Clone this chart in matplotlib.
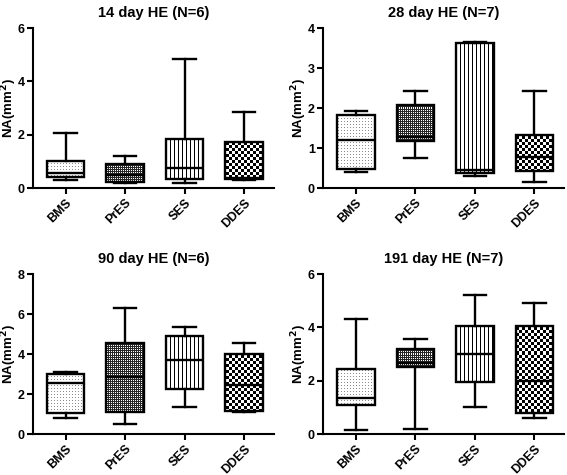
import numpy as np
import matplotlib
matplotlib.use("Agg")
from matplotlib import pyplot as plt

plt.rcParams['font.family'] = ['Liberation Sans', 'DejaVu Sans']
plt.rcParams['font.weight'] = 'bold'

groups = ['BMS', 'PrES', 'SES', 'DDES']
titles = ['14 day HE (N=6)', '28 day HE (N=7)', '90 day HE (N=6)', '191 day HE (N=7)']
ymax = [6, 4, 8, 6]
ystep = [2, 1, 2, 2]

# per panel, per group: min, q1, median, q3, max
d14_min = [0.30, 0.20, 0.20, 0.30]
d14_q1 = [0.40, 0.22, 0.33, 0.33]
d14_med = [0.55, 0.50, 0.75, 0.36]
d14_q3 = [1.00, 0.90, 1.85, 1.72]
d14_max = [2.05, 1.20, 4.85, 2.85]

d28_min = [0.40, 0.75, 0.30, 0.15]
d28_q1 = [0.48, 1.18, 0.37, 0.42]
d28_med = [1.20, 1.27, 0.45, 0.78]
d28_q3 = [1.82, 2.08, 3.63, 1.32]
d28_max = [1.92, 2.43, 3.65, 2.42]

d90_min = [0.80, 0.50, 1.35, 1.10]
d90_q1 = [1.05, 1.10, 2.25, 1.15]
d90_med = [2.55, 2.85, 3.70, 2.45]
d90_q3 = [3.00, 4.55, 4.90, 4.00]
d90_max = [3.10, 6.30, 5.35, 4.55]

d191_min = [0.15, 0.20, 1.00, 0.60]
d191_q1 = [1.10, 2.50, 1.95, 0.80]
d191_med = [1.35, 2.65, 3.00, 2.00]
d191_q3 = [2.45, 3.20, 4.05, 4.05]
d191_max = [4.30, 3.55, 5.20, 4.90]

panels = [
    (d14_min, d14_q1, d14_med, d14_q3, d14_max),
    (d28_min, d28_q1, d28_med, d28_q3, d28_max),
    (d90_min, d90_q1, d90_med, d90_q3, d90_max),
    (d191_min, d191_q1, d191_med, d191_q3, d191_max),
]

positions = [[0.058, 0.604], [0.570, 0.604], [0.058, 0.086], [0.570, 0.086]]


def texture(kind, h, w):
    i, j = np.indices((h, w))
    if kind == 0:  # sparse grey dots
        img = np.ones((h, w))
        img[(i % 3 == 0) & (j % 3 == 0)] = 0.55
    elif kind == 1:  # dense dark dots
        img = np.zeros((h, w)) + 0.15
        img[(i % 2 == 0) & (j % 2 == 0)] = 1.0
    elif kind == 2:  # vertical lines
        img = np.ones((h, w))
        img[:, j[0] % 4 == 0] = 0.0
    else:  # checkerboard
        img = (((i // 3) + (j // 3)) % 2).astype(float)
    return img


fig = plt.figure(figsize=(5.67, 4.75), dpi=100)

for p in range(4):
    ax = fig.add_axes([positions[p][0], positions[p][1], 0.425, 0.337])
    mn, q1, med, q3, mx = panels[p]
    stats = []
    for g in range(4):
        stats.append(dict(whislo=mn[g], q1=q1[g], med=med[g], q3=q3[g], whishi=mx[g], label=groups[g]))
    lw = 1.7
    res = ax.bxp(stats, positions=range(4), widths=0.63, capwidths=0.38,
                 patch_artist=True, showfliers=False,
                 boxprops=dict(facecolor='none', edgecolor='black', linewidth=lw, zorder=3),
                 whiskerprops=dict(color='black', linewidth=lw, zorder=3),
                 capprops=dict(color='black', linewidth=lw, zorder=3),
                 medianprops=dict(color='black', linewidth=lw, zorder=3))
    ax.set_xlim(-0.55, 3.5)
    ax.set_ylim(0, ymax[p])

    wpx = int(ax.bbox.width)
    hpx = int(ax.bbox.height)
    for g, box in enumerate(res['boxes']):
        im = ax.imshow(texture(g, hpx, wpx), cmap='gray', vmin=0, vmax=1,
                       extent=(-0.55, 3.5, 0, ymax[p]), aspect='auto',
                       interpolation='nearest', zorder=1)
        im.set_clip_path(box)
    ax.set_xlim(-0.55, 3.5)
    ax.set_ylim(0, ymax[p])

    ax.set_yticks(np.arange(0, ymax[p] + 0.01, ystep[p]))
    ax.set_xticks(range(4))
    ax.set_xticklabels(groups, rotation=45, ha='right', va='top', rotation_mode='anchor',
                       fontsize=9, fontweight='bold')
    for lab in ax.get_yticklabels():
        lab.set_fontweight('bold')
        lab.set_fontsize(9)
    ax.spines['top'].set_visible(False)
    ax.spines['right'].set_visible(False)
    ax.spines['left'].set_linewidth(1.5)
    ax.spines['bottom'].set_linewidth(1.5)
    ax.tick_params(width=1.5, length=4, pad=2)
    ax.set_ylabel('NA(mm$^\\mathbf{2}$)', fontsize=9.5, fontweight='bold')
    ax.yaxis.set_label_coords(-0.058, 0.5)
    ax.set_title(titles[p], fontsize=10.5, fontweight='bold', pad=8)

fig.savefig('out.png', dpi=100)
